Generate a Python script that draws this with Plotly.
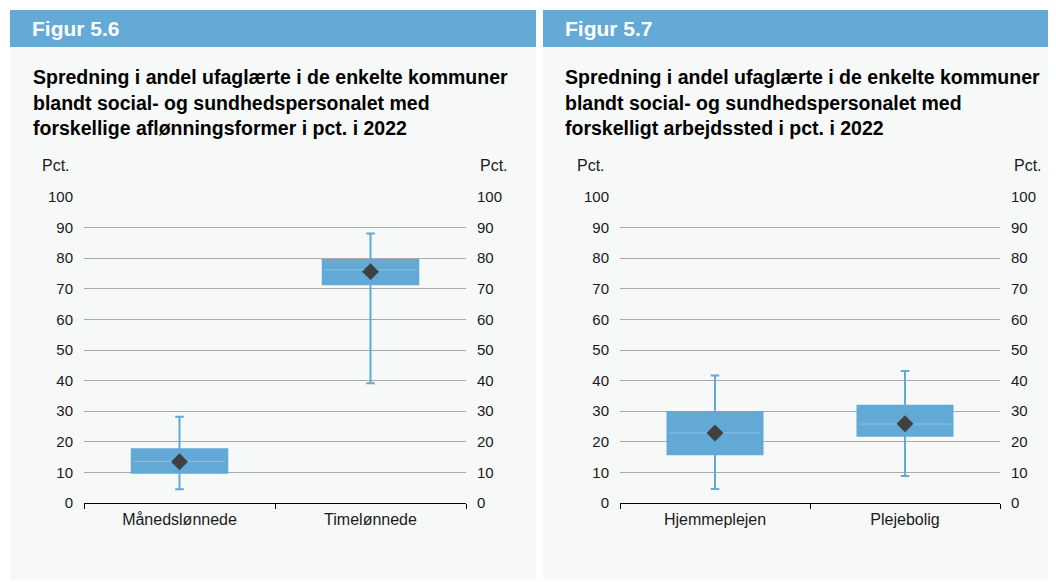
import plotly.graph_objects as go

W, H = 1056, 582
OFF = 8  # page margin around the plot div

# Figur 5.6
cats_a = ["Månedslønnede", "Timelønnede"]
low_a = [4.5, 39.1]
q1_a = [9.9, 71.5]
med_a = [13.6, 76.2]
q3_a = [17.6, 79.4]
high_a = [28.2, 88.1]
mean_a = [13.5, 75.6]

# Figur 5.7
cats_b = ["Hjemmeplejen", "Plejebolig"]
low_b = [4.6, 8.8]
q1_b = [15.9, 22.0]
med_b = [22.9, 25.8]
q3_b = [29.7, 31.8]
high_b = [41.7, 43.1]
mean_b = [22.9, 25.9]

yticks = list(range(0, 101, 10))

BLUE = "#62a9d5"
HEAD = "#64aad6"
PANEL = "#f7f8f8"
FONT = "Liberation Sans, Arial, sans-serif"


def fx(px):
    return (px - OFF) / W


def fy(py):
    return 1 - (py - OFF) / H


fig = go.Figure()

panels = [
    dict(xa="x", ya="y", yr="y2", cats=cats_a, low=low_a, q1=q1_a, med=med_a,
         q3=q3_a, high=high_a, mean=mean_a),
    dict(xa="x2", ya="y3", yr="y4", cats=cats_b, low=low_b, q1=q1_b, med=med_b,
         q3=q3_b, high=high_b, mean=mean_b),
]

box_w = 0.5
for p in panels:
    xs = list(range(len(p["cats"])))
    fig.add_trace(go.Box(
        x=xs, q1=p["q1"], median=p["med"], q3=p["q3"],
        lowerfence=p["low"], upperfence=p["high"],
        width=box_w, whiskerwidth=0.09,
        fillcolor=BLUE, line=dict(color=BLUE, width=2),
        xaxis=p["xa"], yaxis=p["ya"], showlegend=False, hoverinfo="skip",
    ))
    # lighter median line inside the box
    for i, m in enumerate(p["med"]):
        fig.add_trace(go.Scatter(
            x=[i - box_w / 2 + 0.01, i + box_w / 2 - 0.01], y=[m, m],
            mode="lines", line=dict(color="#8ec3e4", width=1),
            xaxis=p["xa"], yaxis=p["ya"], showlegend=False, hoverinfo="skip",
        ))
    fig.add_trace(go.Scatter(
        x=xs, y=p["mean"], mode="markers",
        marker=dict(symbol="diamond", size=13, color="#404040"),
        xaxis=p["xa"], yaxis=p["yr"], showlegend=False, hoverinfo="skip",
    ))

yd = [fy(503), fy(197)]
tickfont = dict(family=FONT, size=15, color="#1a1a1a")
catfont = dict(family=FONT, size=16, color="#1a1a1a")

xcommon = dict(
    range=[-0.5, 1.5], showgrid=False, zeroline=False,
    showline=True, linecolor="black", linewidth=1,
    tickmode="array", ticks="", tickfont=catfont, ticklabelstandoff=2,
    minor=dict(tickmode="array", tickvals=[-0.5, 0.5, 1.5], ticks="outside",
               ticklen=5, tickcolor="black", tickwidth=1, showgrid=False),
    fixedrange=True, automargin=False,
)
ycommon = dict(
    range=[0, 100], tickmode="array", tickvals=yticks, zeroline=False,
    showline=False, ticks="", tickfont=tickfont, ticklabelstandoff=10,
    fixedrange=True, domain=yd, automargin=False,
)

fig.update_layout(
    xaxis=dict(xcommon, domain=[fx(84), fx(466)], anchor="y",
               tickvals=[0, 1], ticktext=cats_a),
    xaxis2=dict(xcommon, domain=[fx(620), fx(1000)], anchor="y3",
                tickvals=[0, 1], ticktext=cats_b),
    yaxis=dict(ycommon, anchor="x", showgrid=True, gridcolor="#a9a9a9", gridwidth=1),
    yaxis2=dict(ycommon, anchor="x", overlaying="y", side="right", showgrid=False),
    yaxis3=dict(ycommon, anchor="x2", showgrid=True, gridcolor="#a9a9a9", gridwidth=1),
    yaxis4=dict(ycommon, anchor="x2", overlaying="y3", side="right", showgrid=False),
    boxmode="overlay",
)

shapes = []
annos = []
titles = [
    ("Figur 5.6", 10, 536, 31,
     ["Spredning i andel ufaglærte i de enkelte kommuner",
      "blandt social- og sundhedspersonalet med",
      "forskellige aflønningsformer i pct. i 2022"], 72, 478),
    ("Figur 5.7", 543, 1064, 563,
     ["Spredning i andel ufaglærte i de enkelte kommuner",
      "blandt social- og sundhedspersonalet med",
      "forskelligt arbejdssted i pct. i 2022"], 607, 1012),
]
for head, x0, x1, tx, lines, pl, pr in titles:
    shapes.append(dict(type="rect", xref="paper", yref="paper",
                       x0=fx(x0), x1=fx(x1), y0=fy(580), y1=fy(47),
                       fillcolor=PANEL, line=dict(width=0), layer="below"))
    shapes.append(dict(type="rect", xref="paper", yref="paper",
                       x0=fx(x0), x1=fx(x1), y0=fy(47), y1=fy(10),
                       fillcolor=HEAD, line=dict(width=0), layer="below"))
    annos.append(dict(text="<b>" + head + "</b>", xref="paper", yref="paper",
                      x=fx(x0 + 20), y=fy(29), xanchor="left", yanchor="middle",
                      showarrow=False, font=dict(family=FONT, size=21, color="white")))
    for i, ln in enumerate(lines):
        annos.append(dict(text="<b>" + ln + "</b>", xref="paper", yref="paper",
                          x=fx(tx), y=fy(77 + 25.7 * i), xanchor="left",
                          yanchor="middle", showarrow=False,
                          font=dict(family=FONT, size=19.5, color="black")))
    annos.append(dict(text="Pct.", xref="paper", yref="paper", x=fx(pl), y=fy(166),
                      xanchor="right", yanchor="middle", showarrow=False, font=catfont))
    annos.append(dict(text="Pct.", xref="paper", yref="paper", x=fx(pr), y=fy(166),
                      xanchor="left", yanchor="middle", showarrow=False, font=catfont))

fig.update_layout(
    width=W, height=H, margin=dict(l=0, r=0, t=0, b=0, pad=0, autoexpand=False),
    paper_bgcolor="white", plot_bgcolor="rgba(0,0,0,0)",
    shapes=shapes, annotations=annos, showlegend=False,
)

fig.write_html("out.html")
